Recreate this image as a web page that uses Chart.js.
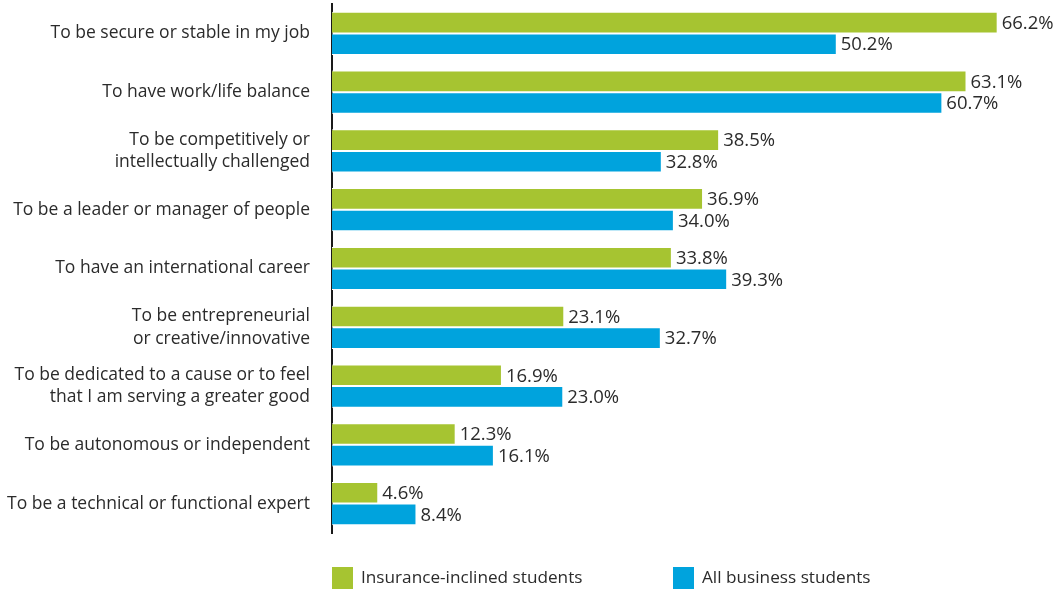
<!DOCTYPE html>
<html>
<head>
<meta charset="utf-8">
<script src="https://cdn.jsdelivr.net/npm/chart.js@4/dist/chart.umd.min.js"></script>
<style>
  html, body { margin: 0; padding: 0; background: #fff; }
  #wrap { width: 1057px; height: 591px; position: relative; }
</style>
</head>
<body>
<div id="wrap"><canvas id="grafico"></canvas></div>
<script>
// categorias (eixo y) e séries
const categorias = [
  'To be secure or stable in my job',
  'To have work/life balance',
  ['To be competitively or', 'intellectually challenged'],
  'To be a leader or manager of people',
  'To have an international career',
  ['To be entrepreneurial', 'or creative/innovative'],
  ['To be dedicated to a cause or to feel', 'that I am serving a greater good'],
  'To be autonomous or independent',
  'To be a technical or functional expert'
];
const seguros = [66.2, 63.1, 38.5, 36.9, 33.8, 23.1, 16.9, 12.3, 4.6];
const negocios = [50.2, 60.7, 32.8, 34.0, 39.3, 32.7, 23.0, 16.1, 8.4];
const nomesSeries = ['Insurance-inclined students', 'All business students'];
const cores = ['#A6C431', '#00A3DD'];

const FONTE = "'Open Sans', 'Noto Sans', sans-serif";

// 🎯 rótulos de valor à direita de cada barra
const rotulosPlugin = {
  id: 'rotulos',
  afterDatasetsDraw(chart) {
    const ctx = chart.ctx;
    ctx.save();
    ctx.font = '18.5px ' + FONTE;
    ctx.fillStyle = '#2b2b2b';
    ctx.textAlign = 'left';
    ctx.textBaseline = 'middle';
    chart.data.datasets.forEach((ds, i) => {
      chart.getDatasetMeta(i).data.forEach((bar, j) => {
        ctx.fillText(ds.data[j].toFixed(1) + '%', bar.x + 4, bar.y + 1);
      });
    });
    ctx.restore();
  }
};

// 🎯 legenda desenhada abaixo da área do gráfico
const legendaPlugin = {
  id: 'legenda',
  afterDraw(chart) {
    const ctx = chart.ctx;
    const area = chart.chartArea;
    const y = area.bottom + 34;
    const passo = 341;
    ctx.save();
    ctx.font = '17.2px ' + FONTE;
    ctx.textBaseline = 'middle';
    chart.data.datasets.forEach((ds, i) => {
      const x = area.left + i * passo;
      ctx.fillStyle = ds.backgroundColor;
      ctx.fillRect(x, y, 21, 22);
      ctx.fillStyle = '#2b2b2b';
      ctx.fillText(ds.label, x + 29, y + 11);
    });
    ctx.restore();
  }
};

window.addEventListener('DOMContentLoaded', function () {
  const ctx = document.getElementById('grafico').getContext('2d');
  new Chart(ctx, {
    type: 'bar',
    data: {
      labels: categorias,
      datasets: [
        { label: nomesSeries[0], data: seguros, backgroundColor: cores[0] },
        { label: nomesSeries[1], data: negocios, backgroundColor: cores[1] }
      ]
    },
    options: {
      indexAxis: 'y',
      responsive: true,
      maintainAspectRatio: false,
      animation: false,
      datasets: {
        bar: {
          barPercentage: 1,
          categoryPercentage: 0.735,
          borderColor: '#ffffff',
          borderWidth: 1,
          borderSkipped: 'start'
        }
      },
      layout: { padding: { top: 4, bottom: 58, right: 1, left: 0 } },
      plugins: {
        legend: { display: false },
        tooltip: { enabled: false }
      },
      scales: {
        x: { display: false, min: 0, max: 72 },
        y: {
          // largura fixa do eixo e sem folga extra em cima/embaixo
          afterFit(scale) {
            scale.width = 332;
            scale.paddingTop = 0;
            scale.paddingBottom = 0;
          },
          grid: { display: false, drawTicks: false },
          border: { display: true, color: '#1a1a1a', width: 2 },
          ticks: {
            padding: 22,
            color: '#2b2b2b',
            font: { family: FONTE, size: 17.5, lineHeight: 1.3 }
          }
        }
      }
    },
    plugins: [rotulosPlugin, legendaPlugin]
  });
});
</script>
</body>
</html>
